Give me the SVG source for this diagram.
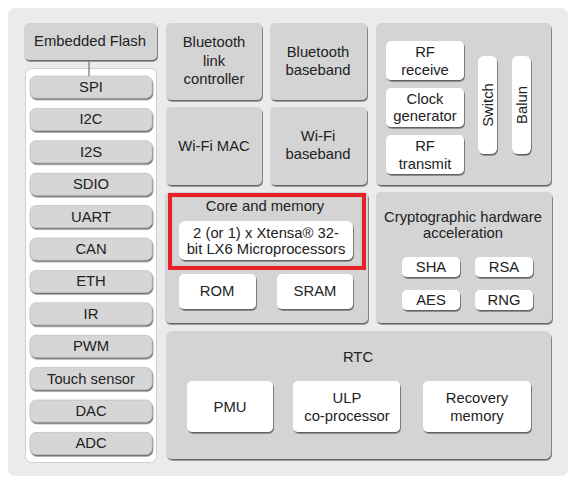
<svg xmlns="http://www.w3.org/2000/svg" width="576" height="486" viewBox="0 0 576 486">
<defs>
<filter id="sh" x="-10%" y="-10%" width="120%" height="130%">
<feDropShadow dx="0.8" dy="1.6" stdDeviation="0.4" flood-color="#444444" flood-opacity="0.8"/>
</filter>
<style>
text{font-family:"Liberation Sans",Arial,sans-serif;font-size:14.8px;fill:#222222;text-anchor:middle;dominant-baseline:central}
.g{fill:#d4d4d4;filter:url(#sh)}
.p{fill:#d6d6d6;stroke:#c2c2c2;stroke-width:0.8;filter:url(#sh)}
.w{fill:#ffffff;filter:url(#sh)}
</style>
</defs>
<rect x="0" y="0" width="576" height="486" fill="#ffffff"/>
<rect x="8" y="8" width="560" height="468" rx="7" fill="#ebebeb"/>

<g id="embedded-flash">
<rect class="g" x="24" y="23" width="133" height="37" rx="5"/>
<text x="90" y="41">Embedded Flash</text>
</g>

<g id="peripherals">
<rect x="25.5" y="68.5" width="131" height="394" rx="6" fill="#ffffff" stroke="#cfcfcf" stroke-width="1"/>
<g id="spi"><rect class="p" x="30" y="76" width="122" height="22" rx="6"/><text x="91" y="87">SPI</text></g>
<g id="i2c"><rect class="p" x="30" y="108.4" width="122" height="22" rx="6"/><text x="91" y="119.4">I2C</text></g>
<g id="i2s"><rect class="p" x="30" y="140.8" width="122" height="22" rx="6"/><text x="91" y="151.8">I2S</text></g>
<g id="sdio"><rect class="p" x="30" y="173.2" width="122" height="22" rx="6"/><text x="91" y="184.2">SDIO</text></g>
<g id="uart"><rect class="p" x="30" y="205.6" width="122" height="22" rx="6"/><text x="91" y="216.6">UART</text></g>
<g id="can"><rect class="p" x="30" y="238" width="122" height="22" rx="6"/><text x="91" y="249">CAN</text></g>
<g id="eth"><rect class="p" x="30" y="270.4" width="122" height="22" rx="6"/><text x="91" y="281.4">ETH</text></g>
<g id="ir"><rect class="p" x="30" y="302.8" width="122" height="22" rx="6"/><text x="91" y="313.8">IR</text></g>
<g id="pwm"><rect class="p" x="30" y="335.2" width="122" height="22" rx="6"/><text x="91" y="346.2">PWM</text></g>
<g id="touch"><rect class="p" x="30" y="367.6" width="122" height="22" rx="6"/><text x="91" y="378.6">Touch sensor</text></g>
<g id="dac"><rect class="p" x="30" y="400" width="122" height="22" rx="6"/><text x="91" y="411">DAC</text></g>
<g id="adc"><rect class="p" x="30" y="432.4" width="122" height="22" rx="6"/><text x="91" y="443.4">ADC</text></g>
</g>

<g id="bt-link">
<rect class="g" x="166" y="23" width="96" height="77" rx="5"/>
<text x="214" y="42">Bluetooth</text><text x="214" y="61">link</text><text x="214" y="79">controller</text>
</g>
<g id="bt-baseband">
<rect class="g" x="270" y="23" width="97" height="77" rx="5"/>
<text x="318" y="52">Bluetooth</text><text x="318" y="70">baseband</text>
</g>
<g id="wifi-mac">
<rect class="g" x="166" y="107" width="96" height="78" rx="5"/>
<text x="214" y="146">Wi-Fi MAC</text>
</g>
<g id="wifi-baseband">
<rect class="g" x="270" y="107" width="97" height="78" rx="5"/>
<text x="318" y="136">Wi-Fi</text><text x="318" y="154">baseband</text>
</g>

<g id="rf">
<rect class="g" x="376" y="23" width="175" height="162" rx="5"/>
<g id="rf-receive"><rect class="w" x="386" y="41" width="78" height="39" rx="5"/><text x="425" y="52">RF</text><text x="425" y="70">receive</text></g>
<g id="clock"><rect class="w" x="386" y="88" width="78" height="39" rx="5"/><text x="425" y="99">Clock</text><text x="425" y="116">generator</text></g>
<g id="rf-transmit"><rect class="w" x="386" y="135" width="78" height="39" rx="5"/><text x="425" y="146">RF</text><text x="425" y="164">transmit</text></g>
<g id="switch"><rect class="w" x="478" y="56" width="19" height="98" rx="6"/><text transform="translate(488 105) rotate(-90)">Switch</text></g>
<g id="balun"><rect class="w" x="512" y="56" width="19" height="98" rx="6"/><text transform="translate(522 105) rotate(-90)">Balun</text></g>
</g>

<g id="core-memory">
<rect class="g" x="165" y="192" width="203" height="131" rx="5"/>
<rect x="172" y="197" width="189" height="69" fill="none" stroke="#bdbdbd" stroke-width="0.8"/>
<rect x="170" y="195" width="194" height="73" fill="none" stroke="#e8202a" stroke-width="4"/>
<text x="265" y="206">Core and memory</text>
<g id="xtensa"><rect class="w" x="179" y="221" width="174" height="39" rx="6"/><text x="266" y="233">2 (or 1) x Xtensa® 32-</text><text x="266" y="249">bit LX6 Microprocessors</text></g>
<g id="rom"><rect class="w" x="179" y="274" width="77" height="35" rx="5"/><text x="217" y="291">ROM</text></g>
<g id="sram"><rect class="w" x="277" y="274" width="76" height="35" rx="5"/><text x="315" y="291">SRAM</text></g>
</g>

<g id="crypto">
<rect class="g" x="376" y="192" width="176" height="131" rx="5"/>
<text x="463" y="217">Cryptographic hardware</text><text x="463" y="233">acceleration</text>
<g id="sha"><rect class="w" x="402" y="257" width="58" height="20" rx="5"/><text x="431" y="267">SHA</text></g>
<g id="rsa"><rect class="w" x="475" y="257" width="58" height="20" rx="5"/><text x="504" y="267">RSA</text></g>
<g id="aes"><rect class="w" x="402" y="290" width="58" height="20" rx="5"/><text x="431" y="300">AES</text></g>
<g id="rng"><rect class="w" x="475" y="290" width="58" height="20" rx="5"/><text x="504" y="300">RNG</text></g>
</g>

<g id="rtc">
<rect class="g" x="166" y="331" width="385" height="128" rx="6"/>
<text x="358" y="357">RTC</text>
<g id="pmu"><rect class="w" x="187" y="381" width="86" height="51" rx="5"/><text x="230" y="407">PMU</text></g>
<g id="ulp"><rect class="w" x="293" y="381" width="107" height="51" rx="5"/><text x="347" y="398">ULP</text><text x="347" y="416">co-processor</text></g>
<g id="recovery"><rect class="w" x="423" y="381" width="108" height="51" rx="5"/><text x="477" y="398">Recovery</text><text x="477" y="416">memory</text></g>
</g>

<g id="connectors">
<line x1="89" y1="61" x2="89" y2="76" stroke="#8c8c8c" stroke-width="1.5"/>
</g>
</svg>
